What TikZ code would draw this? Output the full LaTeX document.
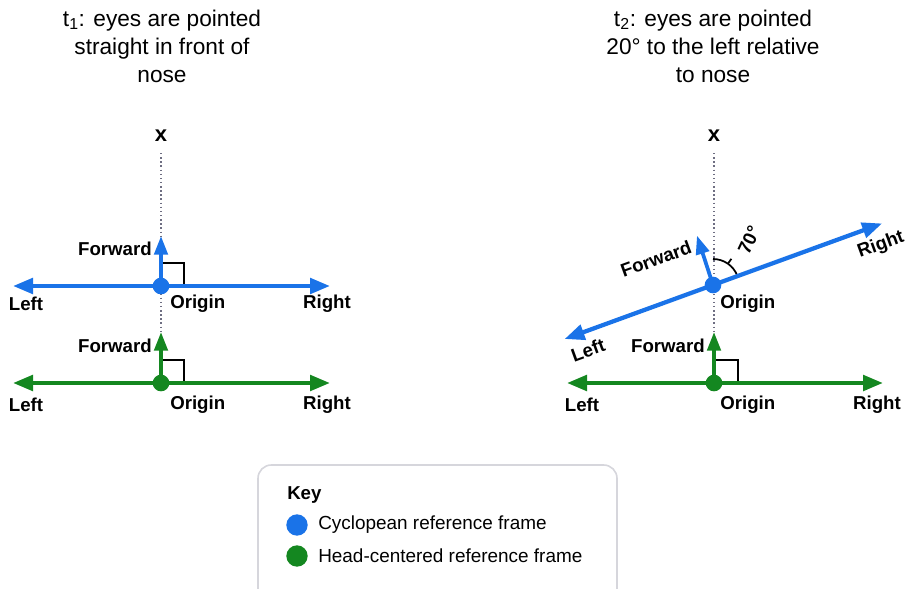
\documentclass[tikz,border=0pt]{standalone}
\usepackage{fontspec}
\setmainfont{Liberation Sans}
\usetikzlibrary{arrows.meta,calc}
\definecolor{cyc}{RGB}{26,115,232}
\definecolor{head}{RGB}{20,135,32}
\definecolor{keyline}{RGB}{214,214,220}
\definecolor{guide}{RGB}{110,110,130}
\begin{document}
\begin{tikzpicture}[x=0.75pt,y=-0.75pt,
  axisline/.style={line width=3.2pt,{Triangle[length=15pt,width=11.5pt]}-{Triangle[length=15pt,width=11.5pt]}},
  fwdline/.style={line width=2.8pt,-{Triangle[length=14pt,width=10pt]}},
  guideline/.style={guide,dotted,line width=1.1pt},
  rightangle/.style={black,line width=1.3pt},
  lab/.style={font=\bfseries\fontsize{14}{16}\selectfont,inner sep=0pt},
  axislab/.style={font=\bfseries\fontsize{16.5}{18}\selectfont,inner sep=0pt},
  title/.style={font=\fontsize{17}{21}\selectfont,align=center,inner sep=0pt},
  keytext/.style={font=\fontsize{14.2}{16}\selectfont,inner sep=0pt,anchor=west},
  dot/.style={circle,inner sep=0pt,minimum size=12.5pt}]
\useasboundingbox (0,0) rectangle (912,588);
\clip (0,0) rectangle (912,588);

% ---------- titles ----------
\node[title] (t1) at (162,46) {t\textsubscript{1}: eyes are pointed\\straight in front of\\nose};
\node[title] (t2) at (713,46) {t\textsubscript{2}: eyes are pointed\\20° to the left relative\\to nose};

% ---------- left panel: eyes straight ahead ----------
\coordinate (Ax) at (161,153);
\coordinate (Ab) at (161,286);
\coordinate (Ag) at (161,383);
\coordinate (AbL) at (13,286);
\coordinate (AbR) at (330,286);
\coordinate (AbF) at (161,236);
\coordinate (AgL) at (13,383);
\coordinate (AgR) at (330,383);
\coordinate (AgF) at (161,332);
\coordinate (AgT) at (161,334);

\node[axislab] (xA) at (161,136) {x};
\draw[guideline] (Ax) -- (AgT);

\draw[rightangle] (161,263) -- (184,263) -- (184,286);
\draw[rightangle] (161,360) -- (184,360) -- (184,383);

\draw[axisline,cyc] (AbL) -- (AbR);
\draw[fwdline,cyc] (Ab) -- (AbF);
\node[dot,fill=cyc] (oAb) at (Ab) {};

\draw[axisline,head] (AgL) -- (AgR);
\draw[fwdline,head] (Ag) -- (AgF);
\node[dot,fill=head] (oAg) at (Ag) {};

\node[lab,anchor=east] (fAb) at (152,249) {Forward};
\node[lab] (lAb) at (26,304) {Left};
\node[lab,anchor=west] (oAbl) at (170,304) {Origin};
\node[lab] (rAb) at (327,304) {Right};

\node[lab,anchor=east] (fAg) at (152,346) {Forward};
\node[lab] (lAg) at (26,405) {Left};
\node[lab,anchor=west] (oAgl) at (170,405) {Origin};
\node[lab] (rAg) at (327,405) {Right};

% ---------- right panel: eyes turned 20 degrees ----------
\coordinate (Bx) at (714,153);
\coordinate (Bb) at (713,285);
\coordinate (Bg) at (714,383);
\coordinate (BbR) at ($(Bb)+(-20:180)$);
\coordinate (BbL) at ($(Bb)+(160:158)$);
\coordinate (BbF) at ($(Bb)+(-108:52)$);
\coordinate (BgL) at (567,383);
\coordinate (BgR) at (883,383);
\coordinate (BgF) at (714,332);
\coordinate (BgT) at (714,334);

\node[axislab] (xB) at (714,136) {x};
\draw[guideline] (Bx) -- (BgT);

\draw[rightangle] (714,360) -- (738,360) -- (738,383);

% angle between the head's forward axis and the rotated frame
\draw[black,line width=1.3pt] ($(Bb)+(-90:26)$) arc[start angle=-90,end angle=-20,radius=26];
\draw[black,line width=1.3pt] ($(Bb)+(-55:26)$) -- ($(Bb)+(-55:32)$);

\draw[axisline,cyc] (BbL) -- (BbR);
\draw[fwdline,cyc] (Bb) -- (BbF);
\node[dot,fill=cyc] (oBb) at (Bb) {};

\draw[axisline,head] (BgL) -- (BgR);
\draw[fwdline,head] (Bg) -- (BgF);
\node[dot,fill=head] (oBg) at (Bg) {};

\node[lab,rotate=20] (fBb) at (656,259) {Forward};
\node[lab,rotate=20] (rBb) at (881,245) {Right};
\node[lab,rotate=20] (lBb) at (588,350) {Left};
\node[lab,rotate=65] (ang) at (749,240) {70°};
\node[lab,anchor=west] (oBbl) at (720,304) {Origin};

\node[lab,anchor=east] (fBg) at (705,346) {Forward};
\node[lab] (lBg) at (582,405) {Left};
\node[lab,anchor=west] (oBgl) at (720,405) {Origin};
\node[lab] (rBg) at (877,405) {Right};

% ---------- key ----------
\draw[keyline,line width=1.2pt,rounded corners=10pt,fill=white] (258,465) rectangle (617,610);
\node[font=\bfseries\fontsize{14}{16}\selectfont,inner sep=0pt,anchor=west] (key) at (287,495) {Key};
\node[dot,fill=cyc,minimum size=16pt] (kc) at (297,525) {};
\node[keytext] (kct) at (318,525) {Cyclopean reference frame};
\node[dot,fill=head,minimum size=16pt] (kh) at (297,556) {};
\node[keytext] (kht) at (318,556) {Head-centered reference frame};
\end{tikzpicture}
\end{document}
